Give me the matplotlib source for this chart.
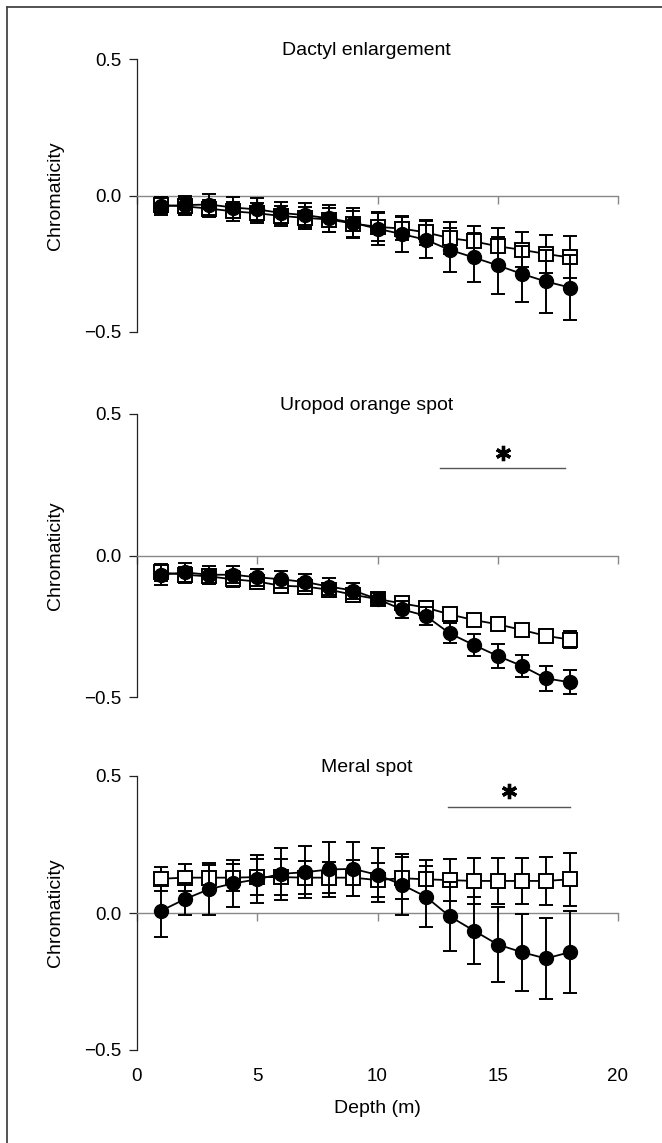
import matplotlib
matplotlib.use("Agg")
import matplotlib.pyplot as plt
from matplotlib.lines import Line2D
from matplotlib.transforms import offset_copy

plt.rcParams['font.family'] = ['Liberation Sans', 'DejaVu Sans']

depth = list(range(1, 19))

titles = ["Dactyl enlargement", "Uropod orange spot", "Meral spot"]

# filled circles
dactyl_circ = [-0.039, -0.035, -0.033, -0.044, -0.051, -0.064, -0.072, -0.084, -0.100,
               -0.122, -0.141, -0.162, -0.199, -0.227, -0.256, -0.287, -0.315, -0.337]
dactyl_circ_err = [0.032, 0.034, 0.038, 0.040, 0.042, 0.041, 0.044, 0.050, 0.054,
                   0.061, 0.067, 0.067, 0.081, 0.091, 0.104, 0.102, 0.116, 0.119]
# open squares
dactyl_sq = [-0.035, -0.040, -0.048, -0.058, -0.065, -0.075, -0.082, -0.088, -0.103,
             -0.115, -0.121, -0.135, -0.156, -0.168, -0.186, -0.199, -0.214, -0.227]
dactyl_sq_err = [0.030, 0.030, 0.032, 0.034, 0.036, 0.038, 0.040, 0.044, 0.048,
                 0.050, 0.043, 0.047, 0.058, 0.058, 0.066, 0.064, 0.071, 0.077]

uropod_circ = [-0.068, -0.060, -0.068, -0.068, -0.077, -0.084, -0.094, -0.110, -0.124,
               -0.154, -0.190, -0.213, -0.275, -0.316, -0.355, -0.390, -0.434, -0.448]
uropod_circ_err = [0.036, 0.032, 0.032, 0.030, 0.030, 0.030, 0.030, 0.030, 0.028,
                   0.020, 0.030, 0.032, 0.035, 0.038, 0.041, 0.039, 0.044, 0.042]
uropod_sq = [-0.060, -0.068, -0.074, -0.084, -0.092, -0.107, -0.110, -0.121, -0.139,
             -0.154, -0.169, -0.184, -0.208, -0.228, -0.243, -0.263, -0.284, -0.297]
uropod_sq_err = [0.030, 0.028, 0.028, 0.028, 0.027, 0.026, 0.026, 0.025, 0.025,
                 0.018, 0.022, 0.022, 0.024, 0.021, 0.025, 0.021, 0.023, 0.029]

meral_circ = [0.008, 0.051, 0.087, 0.108, 0.123, 0.143, 0.149, 0.159, 0.161,
              0.139, 0.104, 0.060, -0.012, -0.064, -0.115, -0.143, -0.166, -0.143]
meral_circ_err = [0.094, 0.058, 0.094, 0.087, 0.088, 0.094, 0.094, 0.100, 0.098,
                  0.099, 0.110, 0.110, 0.125, 0.122, 0.138, 0.140, 0.148, 0.150]
meral_sq = [0.125, 0.129, 0.129, 0.129, 0.131, 0.131, 0.129, 0.129, 0.129,
            0.120, 0.127, 0.123, 0.120, 0.117, 0.117, 0.117, 0.117, 0.123]
meral_sq_err = [0.044, 0.050, 0.045, 0.050, 0.065, 0.066, 0.060, 0.057, 0.066,
                0.063, 0.076, 0.071, 0.076, 0.085, 0.085, 0.085, 0.088, 0.097]

circ_series = [dactyl_circ, uropod_circ, meral_circ]
circ_errs = [dactyl_circ_err, uropod_circ_err, meral_circ_err]
sq_series = [dactyl_sq, uropod_sq, meral_sq]
sq_errs = [dactyl_sq_err, uropod_sq_err, meral_sq_err]

# significance bars (None = no bar)
sig_start = [None, 12.6, 12.95]
sig_end = [None, 17.8, 18.0]
sig_y = [None, 0.309, 0.388]

yticks = [-0.5, 0.0, 0.5]
ytick_labels = ["\u22120.5", "0.0", "0.5"]
xticks = [0, 5, 10, 15, 20]
xtick_labels = ["0", "5", "10", "15", "20"]

W, H = 662, 1143
fig = plt.figure(figsize=(W / 100, H / 100), dpi=100)

# axes boxes in pixels: (top, bottom)
boxes = [(59, 332), (414, 697), (776, 1050)]
left_px, right_px = 137, 618

for i, (top, bot) in enumerate(boxes):
    ax = fig.add_axes([left_px / W, 1 - bot / H, (right_px - left_px) / W, (bot - top) / H])

    ax.errorbar(depth, sq_series[i], yerr=sq_errs[i], fmt='-s', color='black',
                mfc='white', mec='black', ms=9.5, mew=1.4, lw=1.3, elinewidth=1.4,
                capsize=4.8, capthick=1.4, zorder=3)
    ax.errorbar(depth, circ_series[i], yerr=circ_errs[i], fmt='-o', color='black',
                ms=10, lw=1.3, elinewidth=1.4, capsize=4.8, capthick=1.4, zorder=4)

    if sig_start[i] is not None:
        ax.plot([sig_start[i], sig_end[i]], [sig_y[i], sig_y[i]], color='#555555', lw=1.0)
        mid = (sig_start[i] + sig_end[i]) / 2
        star_tr = offset_copy(ax.transData, fig=fig, x=0, y=11, units='points')
        ax.plot([mid], [sig_y[i]], marker=(6, 2, 0), ms=11, mew=2.4, color='black',
                transform=star_tr, clip_on=False)

    ax.set_xlim(0, 20)
    ax.set_ylim(-0.5, 0.5)
    for s in ['top', 'right']:
        ax.spines[s].set_visible(False)
    ax.spines['left'].set_bounds(-0.5, 0.5)
    ax.spines['left'].set_color('#222222')
    ax.spines['left'].set_linewidth(0.9)
    ax.spines['bottom'].set_position(('data', 0))
    ax.spines['bottom'].set_color('#888888')
    ax.spines['bottom'].set_linewidth(1.0)

    ax.set_yticks(yticks, ytick_labels)
    ax.set_xticks(xticks)
    ax.tick_params(axis='y', length=6, width=0.9, pad=5.5, labelsize=13.5, color='#222222')
    ax.tick_params(axis='x', length=5.5, width=1.0, color='#888888', labelbottom=False)

    ax.set_ylabel('Chromaticity', fontsize=14)
    ax.yaxis.set_label_coords(-0.152, 0.5)
    ax.set_title(titles[i], x=0.477, pad=3, fontsize=14)

    if i == 2:
        sec = ax.secondary_xaxis('bottom')
        sec.set_xticks(xticks, xtick_labels)
        sec.tick_params(length=0, pad=13, labelsize=13.5)
        sec.spines['bottom'].set_visible(False)
        sec.set_xlabel('Depth (m)', fontsize=14, labelpad=11)

# outer frame (left and top edges visible)
fig.add_artist(Line2D([7 / W, 7 / W], [0, 1 - 7 / H], color='#444444', lw=1.3))
fig.add_artist(Line2D([7 / W, 1], [1 - 7 / H, 1 - 7 / H], color='#444444', lw=1.3))

fig.savefig('out.png', dpi=100)
